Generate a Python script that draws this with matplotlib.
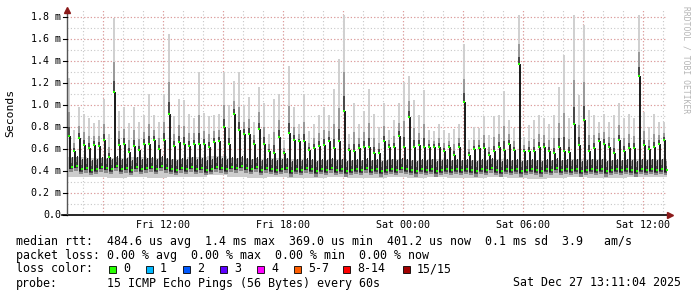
import matplotlib
matplotlib.use('Agg')
import matplotlib.pyplot as plt
from matplotlib.patches import Rectangle

# x axis is hours since Fri 07:11 (30 h window ending Sat 13:11)
tick_hours = [4.8167, 10.8167, 16.8167, 22.8167, 28.8167]
tick_labels = ['Fri 12:00', 'Fri 18:00', 'Sat 00:00', 'Sat 06:00', 'Sat 12:00']
minor_hours = [0.8167 + h for h in range(30)]
major_hours = [1.8167 + 3 * h for h in range(10)]

y_ticks = [0.0, 0.2, 0.4, 0.6, 0.8, 1.0, 1.2, 1.4, 1.6, 1.8]
y_labels = ['0.0', '0.2 m', '0.4 m', '0.6 m', '0.8 m', '1.0 m', '1.2 m', '1.4 m', '1.6 m', '1.8 m']

# one sample every 15 min, values in ms
spike_med = [0.72, 0.58, 0.70, 0.64, 0.61, 0.64, 0.63, 0.68, 0.53, 1.12,
             0.64, 0.65, 0.57, 0.63, 0.59, 0.65, 0.65, 0.68, 0.60, 0.68,
             0.92, 0.63, 0.66, 0.65, 0.63, 0.65, 0.65, 0.65, 0.62, 0.66,
             0.67, 0.80, 0.65, 0.92, 0.77, 0.74, 0.74, 0.65, 0.78, 0.65,
             0.58, 0.56, 0.71, 0.56, 0.75, 0.68, 0.67, 0.67, 0.59, 0.61,
             0.63, 0.64, 0.67, 0.61, 0.67, 0.95, 0.59, 0.58, 0.61, 0.62,
             0.62, 0.56, 0.56, 0.67, 0.62, 0.62, 0.72, 0.62, 0.89, 0.62,
             0.64, 0.62, 0.62, 0.62, 0.62, 0.58, 0.62, 0.55, 0.62, 1.03,
             0.55, 0.60, 0.61, 0.61, 0.55, 0.58, 0.62, 0.59, 0.65, 0.59,
             1.37, 0.58, 0.58, 0.58, 0.62, 0.62, 0.58, 0.56, 0.62, 0.58,
             0.57, 0.83, 0.64, 0.86, 0.58, 0.61, 0.67, 0.65, 0.62, 0.56,
             0.68, 0.58, 0.61, 0.61, 1.26, 0.64, 0.60, 0.62, 0.65, 0.68]

spike_max = [1.25, 0.77, 0.98, 0.92, 0.88, 0.84, 0.86, 1.05, 0.74, 1.79,
             0.95, 0.98, 0.84, 0.98, 0.85, 0.91, 1.10, 0.91, 0.85, 1.10,
             1.65, 0.90, 1.05, 1.05, 0.92, 0.88, 1.30, 0.93, 0.90, 0.91,
             0.92, 1.30, 1.00, 1.22, 1.30, 1.00, 1.07, 0.85, 1.16, 1.02,
             0.74, 1.05, 1.10, 0.68, 1.35, 0.98, 0.83, 1.10, 0.76, 0.83,
             0.91, 0.98, 0.91, 1.15, 1.42, 1.82, 0.74, 1.02, 0.83, 0.95,
             1.15, 0.92, 0.80, 1.02, 0.77, 0.86, 1.02, 1.21, 1.26, 1.05,
             0.91, 1.14, 0.77, 0.76, 0.83, 0.77, 0.75, 0.78, 0.83, 1.55,
             0.68, 0.80, 0.79, 0.90, 0.73, 0.90, 0.91, 1.13, 0.86, 0.79,
             1.82, 0.71, 0.82, 0.86, 0.91, 0.88, 0.83, 0.91, 1.16, 1.45,
             0.88, 1.82, 1.09, 1.73, 0.95, 0.91, 0.85, 0.92, 0.85, 0.91,
             1.02, 0.88, 0.92, 0.88, 1.82, 0.94, 0.80, 0.92, 0.85, 0.85]

base_med = [0.44, 0.45, 0.42, 0.43, 0.41, 0.42, 0.44, 0.43, 0.42, 0.45,
            0.42, 0.43, 0.41, 0.44, 0.42, 0.43, 0.44, 0.42, 0.45, 0.43,
            0.42, 0.41, 0.43, 0.42, 0.44, 0.42, 0.43, 0.41, 0.42, 0.44,
            0.43, 0.42, 0.44, 0.43, 0.45, 0.43, 0.42, 0.44, 0.41, 0.43,
            0.42, 0.41, 0.42, 0.43, 0.40, 0.42, 0.41, 0.43, 0.42, 0.40,
            0.42, 0.41, 0.43, 0.41, 0.42, 0.40, 0.41, 0.42, 0.41, 0.43,
            0.41, 0.42, 0.40, 0.41, 0.42, 0.41, 0.43, 0.42, 0.41, 0.40,
            0.42, 0.41, 0.42, 0.40, 0.41, 0.42, 0.41, 0.42, 0.41, 0.42,
            0.41, 0.40, 0.42, 0.41, 0.43, 0.41, 0.40, 0.42, 0.41, 0.42,
            0.40, 0.41, 0.42, 0.41, 0.40, 0.42, 0.41, 0.43, 0.41, 0.42,
            0.41, 0.42, 0.40, 0.41, 0.42, 0.41, 0.42, 0.40, 0.41, 0.42,
            0.41, 0.42, 0.41, 0.40, 0.42, 0.41, 0.42, 0.41, 0.42, 0.41]

# hourly smoke envelope around the baseline
smoke_lo = [0.35, 0.35, 0.34, 0.35, 0.34, 0.35, 0.35, 0.36, 0.35, 0.34,
            0.35, 0.34, 0.34, 0.35, 0.34, 0.34, 0.35, 0.34, 0.35, 0.34,
            0.34, 0.35, 0.34, 0.33, 0.34, 0.35, 0.34, 0.34, 0.35, 0.35]
smoke_hi = [0.53, 0.52, 0.52, 0.53, 0.52, 0.51, 0.53, 0.54, 0.52, 0.51,
            0.52, 0.51, 0.50, 0.51, 0.50, 0.50, 0.51, 0.50, 0.51, 0.50,
            0.50, 0.51, 0.50, 0.50, 0.50, 0.51, 0.51, 0.50, 0.51, 0.51]

loss_labels = ['0', '1', '2', '3', '4', '5-7', '8-14', '15/15']
loss_colors = ['#26ff00', '#00b8ff', '#0059ff', '#5e00ff', '#ff00ff', '#ff5e00', '#ff0000', '#a00000']
loss_box_x = [109, 146, 183, 220, 257, 294, 343, 403]

W, H = 697, 297
fig = plt.figure(figsize=(W / 100, H / 100), dpi=100)
fig.patch.set_facecolor('white')
ax = fig.add_axes([67 / W, (H - 215) / H, 600 / W, 205 / H])
ax.set_xlim(0, 30)
ax.set_ylim(0, 205 / 110)
for s in ax.spines.values():
    s.set_visible(False)
ax.set_xticks([])
ax.set_yticks([])

# grid
for h in minor_hours:
    ax.axvline(h, color='#c8c8c8', lw=0.8, ls=(0, (1, 2)), zorder=0)
for v in [0.1 * i for i in range(1, 19)]:
    ax.axhline(v, color='#c8c8c8', lw=0.8, ls=(0, (1, 2)), zorder=0)
for h in major_hours:
    ax.axvline(h, color='#e59a9a', lw=0.8, ls=(0, (1, 2)), zorder=0.5)
for v in y_ticks[1:]:
    ax.axhline(v, color='#e59a9a', lw=0.8, ls=(0, (1, 2)), zorder=0.5)

# baseline smoke
for i in range(len(smoke_lo)):
    ax.bar(i + 0.5, smoke_hi[i] - smoke_lo[i], bottom=smoke_lo[i], width=1.0,
           color='#cdcdcd', lw=0, zorder=1)

times = [0.1 + 0.25 * k for k in range(len(spike_med))]
for k, t in enumerate(times):
    b = base_med[k]
    ax.bar(t + 0.12, 0.13, bottom=b - 0.05, width=0.2, color='#8a8a8a', lw=0, zorder=2)
    ax.bar(t + 0.12, 0.06, bottom=b - 0.025, width=0.2, color='#4a4a4a', lw=0, zorder=2)
    ax.bar(t + 0.17, 0.09, bottom=b, width=0.05, color='#2e2e2e', lw=0, zorder=2)
    m, top = spike_med[k], spike_max[k]
    d = top - m
    ax.bar(t, d, bottom=m, width=0.07, color='#d0d0d0', lw=0, zorder=3)
    ax.bar(t, d * 0.4, bottom=m, width=0.07, color='#9a9a9a', lw=0, zorder=3)
    ax.bar(t, d * 0.15, bottom=m, width=0.07, color='#4a4a4a', lw=0, zorder=3)
    ax.bar(t + 0.03, m - b + 0.02, bottom=b - 0.02, width=0.1, color='#1e1e1e', lw=0, zorder=4)

ax.plot(times, spike_med, 's', ms=1.6, mew=0, color='#22ff00', zorder=5)
ax.plot([t + 0.15 for t in times], base_med, 's', ms=1.6, mew=0, color='#22ff00', zorder=5)

# axes with arrows
ax.plot([-5 / 20, 30.15], [0, 0], color='black', lw=1.2, clip_on=False, zorder=6)
ax.plot([0, 0], [0, 205 / 110], color='#555555', lw=1.0, clip_on=False, zorder=6)
ax.plot([0], [205 / 110], marker='^', ms=4, color='#8b1a1a', clip_on=False, zorder=7)
ax.plot([30.15], [0], marker='>', ms=4, color='#8b1a1a', clip_on=False, zorder=7)
for v in y_ticks:
    ax.plot([-4 / 20, 0], [v, v], color='black', lw=0.8, clip_on=False, zorder=6)

mono = 'DejaVu Sans Mono'
for v, lab in zip(y_ticks, y_labels):
    fig.text(61 / W, 1 - (215 - v * 110) / H, lab, ha='right', va='center',
             family=mono, fontsize=7.2)
for h, lab in zip(tick_hours, tick_labels):
    fig.text((67 + h * 20) / W, 1 - 225 / H, lab, ha='center', va='center',
             family=mono, fontsize=7.2)
fig.text(10 / W, 1 - 113 / H, 'Seconds', rotation=90, ha='center', va='center',
         family=mono, fontsize=8.2)
fig.text(686 / W, 1 - 60 / H, 'RRDTOOL / TOBI OETIKER', rotation=-90, ha='center',
         va='center', family=mono, fontsize=5.8, color='#b4b4b4')

lines = [
    'median rtt:  484.6 us avg  1.4 ms max  369.0 us min  401.2 us now  0.1 ms sd  3.9   am/s',
    'packet loss: 0.00 % avg  0.00 % max  0.00 % min  0.00 % now',
]
fig.text(16 / W, 1 - 241 / H, lines[0], ha='left', va='center', family=mono, fontsize=8.4)
fig.text(16 / W, 1 - 255 / H, lines[1], ha='left', va='center', family=mono, fontsize=8.4)
fig.text(16 / W, 1 - 269 / H, 'loss color:', ha='left', va='center', family=mono, fontsize=8.4)
for bx, col, lab in zip(loss_box_x, loss_colors, loss_labels):
    fig.patches.append(Rectangle((bx / W, 1 - 272.5 / H), 7 / W, 7 / H, facecolor=col,
                                 edgecolor='black', lw=0.6, transform=fig.transFigure, figure=fig))
    fig.text((bx + 14) / W, 1 - 269 / H, lab, ha='left', va='center', family=mono, fontsize=8.4)
fig.text(16 / W, 1 - 283 / H, 'probe:', ha='left', va='center', family=mono, fontsize=8.4)
fig.text(107 / W, 1 - 283 / H, '15 ICMP Echo Pings (56 Bytes) every 60s', ha='left',
         va='center', family=mono, fontsize=8.4)
fig.text(681 / W, 1 - 283 / H, 'Sat Dec 27 13:11:04 2025', ha='right', va='center',
         family=mono, fontsize=8.4)

fig.savefig('out.png', dpi=100)
